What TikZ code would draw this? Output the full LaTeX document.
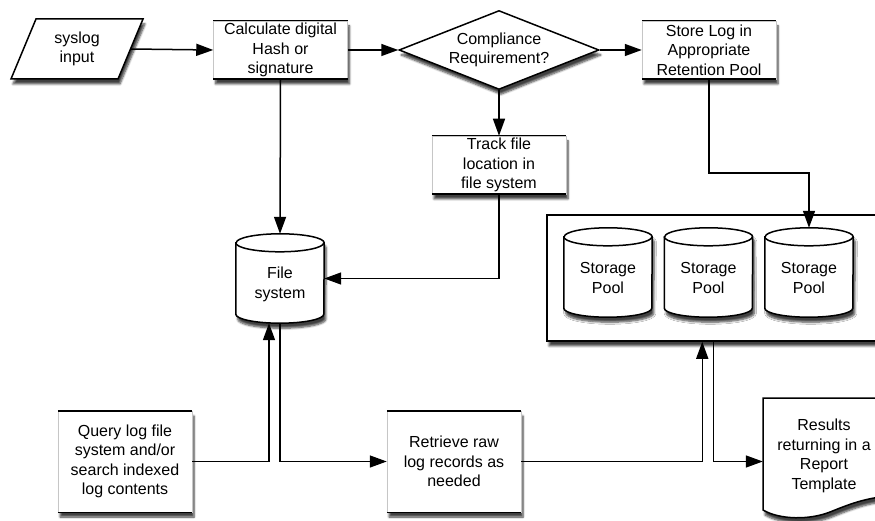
\documentclass[tikz,border=0pt]{standalone}
\usepackage{fontspec}
\setmainfont{Liberation Sans}
\usetikzlibrary{shapes.geometric,arrows.meta,calc,shadows,shadows.blur}
\newcommand\cylshape[1]{%
  \draw[line width=1.5pt, fill=white, shad] ($(#1.north west)+(0,-9)$) -- ($(#1.south west)+(0,9)$)
    arc[start angle=180, end angle=360, x radius=44pt, y radius=9pt]
    -- ($(#1.north east)+(0,-9)$)
    arc[start angle=0, end angle=180, x radius=44pt, y radius=9pt] -- cycle;
  \draw[line width=1.5pt] ($(#1.north west)+(0,-9)$)
    arc[start angle=180, end angle=360, x radius=44pt, y radius=9pt];
}
\begin{document}
\begin{tikzpicture}[x=1pt,y=1pt,
  txt/.style={font=\fontsize{16}{19.5}\selectfont, align=center, inner sep=0pt},
  shad/.style={blur shadow={shadow xshift=2pt, shadow yshift=-5pt, shadow blur steps=6, shadow opacity=75}},
  procbox/.style={txt, fill=white, draw=gray!45, line width=0.5pt, shad, minimum width=134, minimum height=58},
  tallbox/.style={procbox, minimum height=101},
  hole/.style={minimum width=88, minimum height=89, inner sep=0pt},
  arr/.style={line width=1.5pt, -{Triangle[length=17pt,width=12pt,fill=black]}},
  boxedge/.style={line width=1.5pt}
]
\useasboundingbox (0,0) rectangle (875,520);
\clip (0,0) rectangle (875,520);

% syslog input
\draw[fill=white, line width=1.5pt, shad] (36,501) -- (143,501) -- (118,441) -- (11,441) -- cycle;
\node[txt, minimum width=107, minimum height=60] (syslog) at (77,471) {syslog\\input};

% process boxes
\node[procbox] (calc) at (280.5,470) {Calculate digital\\Hash or\\signature};
\node[diamond, txt, draw, fill=white, line width=1.5pt, shad, aspect=2.53,
      minimum width=200, minimum height=79] (comp) at (499,470) {Compliance\\Requirement?};
\node[procbox] (store) at (709,470) {Store Log in\\Appropriate\\Retention Pool};
\node[procbox] (track) at (499,355) {Track file\\location in\\file system};
\node[tallbox] (query) at (125,58.5) {Query log file\\system and/or\\search indexed\\log contents};
\node[tallbox] (retr) at (454,58.5) {Retrieve raw\\log records as\\needed};
\foreach \n in {calc,store,track,query,retr}
  \draw[boxedge] (\n.north west) -- (\n.north east) (\n.south west) -- (\n.south east);

% file system
\node[hole] (fs) at (280,241.5) {};
\cylshape{fs}
\node[txt] at ($(fs.center)+(0,-6)$) {File\\system};

% storage container
\node[draw, fill=white, line width=1.5pt, shad, minimum width=358, minimum height=126] (pool) at (726,242) {};
\node[hole] (sp1) at (608,247.5) {};
\node[hole] (sp2) at (708.5,247.5) {};
\node[hole] (sp3) at (809,247.5) {};
\foreach \n in {sp1,sp2,sp3} {
  \cylshape{\n}
  \node[txt] at ($(\n.center)+(0,-5.5)$) {Storage\\Pool};
}

% report document
\draw[fill=white, line width=1.5pt, shad] (763,122) -- (890,122) -- (890,24)
  .. controls (865,22) and (850,16) .. (830,8)
  .. controls (810,0) and (780,0) .. (763,10) -- cycle;
\node[txt, minimum width=122, minimum height=100] (rep) at (824,64) {Results\\returning in a\\Report\\Template};

% connectors
\draw[arr] (syslog.east) -- (calc.west);
\draw[arr] (calc.east) -- (comp.west);
\draw[arr] (comp.east) -- (store.west);
\draw[arr] (comp.south) -- (track.north);
\draw[arr] (calc.south) -- (fs.north);
\draw[arr] (track.south) |- (fs.east);
\draw[arr] (store.south) -- ++(0,-94) -| (sp3.north);
\draw[arr] (query.east) -| ($(fs.south)+(-11,0)$);
\draw[arr] (fs.south) |- (retr.west);
\draw[arr] (retr.east) -| ($(pool.south west)+(156,0)$);
\draw[arr] ($(pool.south west)+(167,0)$) |- (retr.east -| rep.west);
\end{tikzpicture}
\end{document}
